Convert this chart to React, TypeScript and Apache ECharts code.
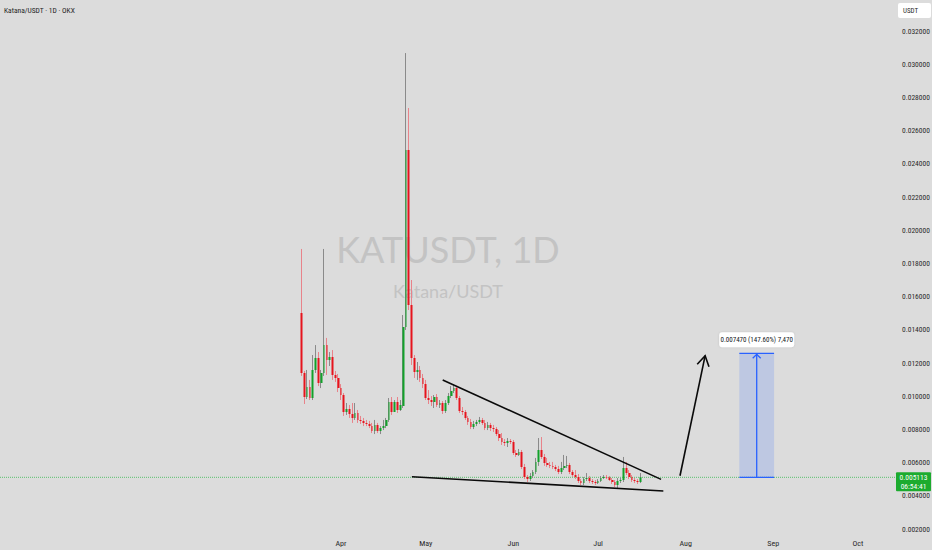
import React, { useEffect, useRef } from "react";
import * as echarts from "echarts";

const DAY = 86400000;
const FIRST_DAY = Date.UTC(2025, 2, 18);
const APR1 = Date.UTC(2025, 3, 1);

const opens = [
  0.01501, 0.0114, 0.00995, 0.01055, 0.00989, 0.01158, 0.0123, 0.0108, 0.0114, 0.01308,
  0.01218, 0.01236, 0.01128, 0.0111, 0.01049, 0.01007, 0.00905, 0.00923, 0.00893, 0.00869,
  0.00899, 0.00857, 0.00851, 0.00839, 0.00833, 0.0082, 0.0079, 0.00827, 0.0079, 0.00808,
  0.0082, 0.00857, 0.00965, 0.00905, 0.00965, 0.00917, 0.00941, 0.01417, 0.02483, 0.01549,
  0.0123, 0.01146, 0.01158, 0.0111, 0.01073, 0.00989, 0.00977, 0.00965, 0.00995, 0.00947,
  0.00959, 0.00911, 0.00959, 0.01001, 0.01031, 0.01049, 0.00989, 0.00911, 0.00905, 0.00869,
  0.00845, 0.00814, 0.00833, 0.00845, 0.00857, 0.00839, 0.00808, 0.00827, 0.00808, 0.00802,
  0.00772, 0.00748, 0.00724, 0.00718, 0.0073, 0.00724, 0.00658, 0.00646, 0.00664, 0.00574,
  0.00513, 0.00501, 0.00519, 0.00543, 0.00604, 0.00676, 0.00634, 0.00598, 0.00586, 0.0058,
  0.00574, 0.00561, 0.00543, 0.00567, 0.0058, 0.00586, 0.00543, 0.00525, 0.00513, 0.00489,
  0.00477, 0.00501, 0.00507, 0.00489, 0.00483, 0.00477, 0.00489, 0.00507, 0.00513, 0.0051,
  0.00495, 0.00483, 0.00465, 0.00489, 0.00495, 0.00567, 0.00537, 0.00513, 0.00495, 0.00489,
  0.00483,
];
const closes = [
  0.0114, 0.00995, 0.01055, 0.00989, 0.01158, 0.0123, 0.0108, 0.0114, 0.01308, 0.01218,
  0.01236, 0.01128, 0.0111, 0.01049, 0.01007, 0.00905, 0.00923, 0.00893, 0.00869, 0.00899,
  0.00857, 0.00851, 0.00839, 0.00833, 0.0082, 0.0079, 0.00827, 0.0079, 0.00808, 0.0082,
  0.00857, 0.00965, 0.00905, 0.00965, 0.00917, 0.00947, 0.01417, 0.02483, 0.01549, 0.0123,
  0.01146, 0.01158, 0.0111, 0.01073, 0.00989, 0.00977, 0.00965, 0.00995, 0.00947, 0.00959,
  0.00911, 0.00959, 0.01001, 0.01031, 0.01049, 0.00989, 0.00911, 0.00905, 0.00869, 0.00845,
  0.00814, 0.00833, 0.00845, 0.00857, 0.00839, 0.00808, 0.00827, 0.00808, 0.00802, 0.00772,
  0.00748, 0.00724, 0.00718, 0.0073, 0.00724, 0.00658, 0.00646, 0.00664, 0.00574, 0.00513,
  0.00501, 0.00519, 0.00543, 0.00604, 0.00676, 0.00634, 0.00598, 0.00586, 0.0058, 0.00574,
  0.00561, 0.00543, 0.00567, 0.0058, 0.00586, 0.00543, 0.00525, 0.00513, 0.00489, 0.00477,
  0.00501, 0.00507, 0.00489, 0.00483, 0.00477, 0.00489, 0.00507, 0.00513, 0.0051, 0.00495,
  0.00483, 0.00465, 0.00489, 0.00495, 0.00567, 0.00537, 0.00513, 0.00495, 0.00489, 0.00483,
  0.005113,
];
const lows = [
  0.01122, 0.00953, 0.00983, 0.00977, 0.00977, 0.0114, 0.01061, 0.01049, 0.01122, 0.01128,
  0.01182, 0.01098, 0.01086, 0.01025, 0.00977, 0.00881, 0.00887, 0.00869, 0.00839, 0.00857,
  0.00839, 0.00833, 0.0082, 0.0082, 0.00808, 0.00778, 0.00772, 0.00778, 0.00772, 0.00796,
  0.00808, 0.00845, 0.00887, 0.00905, 0.00899, 0.00911, 0.00929, 0.01399, 0.01519, 0.01188,
  0.0111, 0.01098, 0.01086, 0.01049, 0.00977, 0.00953, 0.00941, 0.00929, 0.00935, 0.00929,
  0.00893, 0.00899, 0.00947, 0.00989, 0.01019, 0.00977, 0.00899, 0.00887, 0.00857, 0.00827,
  0.00802, 0.00802, 0.0082, 0.00833, 0.00827, 0.00796, 0.00796, 0.0079, 0.00784, 0.0076,
  0.0073, 0.00706, 0.007, 0.00694, 0.00712, 0.00646, 0.00634, 0.0064, 0.00561, 0.00501,
  0.00483, 0.00489, 0.00507, 0.00531, 0.0058, 0.00622, 0.0058, 0.00574, 0.00567, 0.00561,
  0.00549, 0.00531, 0.00531, 0.00555, 0.00567, 0.00531, 0.00513, 0.00501, 0.00477, 0.00465,
  0.00465, 0.00489, 0.00477, 0.00471, 0.00465, 0.00471, 0.00483, 0.00501, 0.00501, 0.00489,
  0.00471, 0.00453, 0.00447, 0.00477, 0.00483, 0.00525, 0.00501, 0.00483, 0.00477, 0.00471,
  0.00477,
];
const highs = [
  0.01887, 0.01152, 0.01158, 0.01098, 0.01248, 0.01308, 0.01266, 0.01158, 0.01887, 0.01351,
  0.01266, 0.01278, 0.01152, 0.01134, 0.01073, 0.01019, 0.00959, 0.00947, 0.00959, 0.00959,
  0.00917, 0.00881, 0.00869, 0.00857, 0.00851, 0.00839, 0.00857, 0.00839, 0.0082, 0.00857,
  0.00869, 0.00989, 0.00995, 0.00977, 0.00995, 0.00977, 0.01489, 0.03067, 0.02736, 0.017,
  0.01248, 0.01206, 0.01182, 0.01134, 0.01098, 0.01037, 0.01001, 0.01007, 0.01013, 0.00977,
  0.00971, 0.00977, 0.01019, 0.01061, 0.01073, 0.01061, 0.01001, 0.00935, 0.00917, 0.00881,
  0.00863, 0.00851, 0.00857, 0.00875, 0.00869, 0.00857, 0.00845, 0.00839, 0.00827, 0.00814,
  0.00796, 0.00778, 0.00742, 0.00748, 0.00742, 0.00736, 0.00676, 0.00682, 0.00676, 0.00592,
  0.00525, 0.00537, 0.00555, 0.00628, 0.00748, 0.00754, 0.00652, 0.00628, 0.00604, 0.00604,
  0.00586, 0.0058, 0.00604, 0.00646, 0.0064, 0.00598, 0.00555, 0.00555, 0.00531, 0.00501,
  0.00513, 0.00537, 0.00519, 0.00501, 0.00495, 0.00501, 0.00519, 0.00525, 0.00525, 0.00519,
  0.00507, 0.00495, 0.00507, 0.00507, 0.00634, 0.00604, 0.00555, 0.00525, 0.00507, 0.00501,
  0.00537,
];

const monthTicks = [
  Date.UTC(2025, 3, 1), Date.UTC(2025, 4, 1), Date.UTC(2025, 5, 1), Date.UTC(2025, 6, 1),
  Date.UTC(2025, 7, 1), Date.UTC(2025, 8, 1), Date.UTC(2025, 9, 1),
];
const monthLabels = ["Apr", "May", "Jun", "Jul", "Aug", "Sep", "Oct"];

const lastPrice = 0.005113;
const countdown = "06:54:41";
const measureTop = 0.012583;
const measureText = "0.007470 (147.60%) 7,470";

// drawing anchors (date offset from Apr 1 in days, price)
const upperTrend = [[36.0, 0.01098], [113.3, 0.00499]];
const lowerTrend = [[25.1, 0.00515], [114.1, 0.00429]];
const arrowPts = [[120.0, 0.00521], [128.9, 0.01244]];
const measureX = [141.0, 153.3];

const FONT = "'Liberation Sans Narrow', 'Roboto Condensed', Roboto, sans-serif";
const BG = "#dcdcdc";
const UP = "#12a12a";
const DOWN = "#e6141d";

export default function App() {
  const ref = useRef<HTMLDivElement>(null);
  useEffect(() => {
    if (!ref.current) return;
    const chart = echarts.init(ref.current, null, { renderer: "svg" });
    const data = opens.map((o, i) => [FIRST_DAY + i * DAY, o, closes[i], lows[i], highs[i]]);
    const gridRight = 36;
    const plotW = 932 - gridRight;
    const pxPerDay = 2.825;
    const xMin = APR1 - (341 / pxPerDay) * DAY;
    const xMax = APR1 + ((plotW - 341) / pxPerDay) * DAY;

    chart.setOption({
      animation: false,
      backgroundColor: BG,
      grid: { left: 0, right: gridRight, top: 31, bottom: 21, containLabel: false, outerBoundsMode: "none" },
      xAxis: {
        type: "value",
        min: xMin,
        max: xMax,
        axisLine: { show: false },
        axisTick: { show: false },
        splitLine: { show: false },
        axisLabel: {
          customValues: monthTicks,
          margin: 10,
          color: "#2a2a2a",
          fontSize: 8,
          fontFamily: FONT,
          formatter: (v: number) => {
            const i = monthTicks.indexOf(v);
            return i >= 0 ? monthLabels[i] : "";
          },
        },
      },
      yAxis: {
        type: "value",
        position: "right",
        min: 0.002,
        max: 0.032,
        interval: 0.002,
        axisLine: { show: false },
        axisTick: { show: false },
        splitLine: { show: false },
        axisLabel: {
          margin: 6,
          color: "#2a2a2a",
          fontSize: 7.5,
          fontFamily: FONT,
          formatter: (v: number) => v.toFixed(6),
        },
      },
      series: [
        {
          type: "line",
          name: "last",
          data: [[xMin, lastPrice], [xMax, lastPrice]],
          symbol: "none",
          silent: true,
          z: 1,
          lineStyle: { color: "#2fb848", type: [1, 1], width: 1, opacity: 0.75 },
        },
        {
          type: "candlestick",
          name: "wicks",
          data,
          encode: { x: 0, y: [1, 2, 3, 4] },
          barWidth: 1,
          itemStyle: {
            color: "#8a8a8a",
            color0: "#e8838a",
            borderColor: "#8a8a8a",
            borderColor0: "#e8838a",
            borderWidth: 1,
          },
          silent: true,
        },
        {
          type: "candlestick",
          name: "KATUSDT",
          data,
          encode: { x: 0, y: [1, 2, 3, 4] },
          barWidth: 2.2,
          itemStyle: {
            color: UP,
            color0: DOWN,
            borderColor: UP,
            borderColor0: DOWN,
            borderWidth: 0,
          },
        },
      ],
    });

    const px = (d: number, p: number) =>
      chart.convertToPixel({ gridIndex: 0 }, [APR1 + d * DAY, p]) as number[];

    const chevron = (from: number[], tip: number[], L: number, W: number) => {
      const dx = tip[0] - from[0];
      const dy = tip[1] - from[1];
      const len = Math.hypot(dx, dy);
      const ux = dx / len;
      const uy = dy / len;
      const bx = tip[0] - ux * L;
      const by = tip[1] - uy * L;
      return [
        [bx + uy * W, by - ux * W],
        [tip[0], tip[1]],
        [bx - uy * W, by + ux * W],
      ];
    };

    const u0 = px(upperTrend[0][0], upperTrend[0][1]);
    const u1 = px(upperTrend[1][0], upperTrend[1][1]);
    const l0 = px(lowerTrend[0][0], lowerTrend[0][1]);
    const l1 = px(lowerTrend[1][0], lowerTrend[1][1]);
    const a0 = px(arrowPts[0][0], arrowPts[0][1]);
    const a1 = px(arrowPts[1][0], arrowPts[1][1]);
    const mTL = px(measureX[0], measureTop);
    const mBR = px(measureX[1], lastPrice);
    const mCx = (mTL[0] + mBR[0]) / 2;
    const priceY = px(0, lastPrice)[1];

    const blue = "#2962ff";
    const Z = 100;
    const WM_FONT = "Lato, 'Open Sans', sans-serif";
    const elements: any[] = [
      {
        type: "text", x: 448, y: 249, z: 0, silent: true,
        style: { text: "KATUSDT, 1D", fill: "#c3c3c3", fontSize: 36, fontFamily: WM_FONT, align: "center", verticalAlign: "middle" },
      },
      {
        type: "text", x: 448, y: 291, z: 0, silent: true,
        style: { text: "Katana/USDT", fill: "#c3c3c3", fontSize: 18, fontFamily: WM_FONT, align: "center", verticalAlign: "middle" },
      },
      {
        type: "text", x: 4, y: 10, z: Z,
        style: { text: "Katana/USDT · 1D · OKX", fill: "#1e1e1e", fontSize: 7.5, fontFamily: FONT, align: "left", verticalAlign: "middle" },
      },
      { type: "rect", z: Z, shape: { x: 898, y: 3, width: 33, height: 15, r: 2 }, style: { fill: "#ffffff" } },
      {
        type: "text", x: 903, y: 10.5, z: Z + 1,
        style: { text: "USDT", fill: "#2a2a2a", fontSize: 7, fontFamily: FONT, align: "left", verticalAlign: "middle" },
      },
      { type: "line", z: Z, shape: { x1: u0[0], y1: u0[1], x2: u1[0], y2: u1[1] }, style: { stroke: "#0a0a0a", lineWidth: 1.6 } },
      { type: "line", z: Z, shape: { x1: l0[0], y1: l0[1], x2: l1[0], y2: l1[1] }, style: { stroke: "#0a0a0a", lineWidth: 1.6 } },
      { type: "line", z: Z, shape: { x1: a0[0], y1: a0[1], x2: a1[0], y2: a1[1] }, style: { stroke: "#0a0a0a", lineWidth: 1.6 } },
      { type: "polyline", z: Z, shape: { points: chevron(a0, a1, 10, 6) }, style: { stroke: "#0a0a0a", lineWidth: 1.6, fill: null } },
      {
        type: "rect", z: Z,
        shape: { x: mTL[0], y: mTL[1], width: mBR[0] - mTL[0], height: mBR[1] - mTL[1] },
        style: { fill: "rgba(41,98,255,0.17)" },
      },
      { type: "line", z: Z, shape: { x1: mTL[0], y1: mTL[1], x2: mBR[0], y2: mTL[1] }, style: { stroke: blue, lineWidth: 1.3 } },
      { type: "line", z: Z, shape: { x1: mTL[0], y1: mBR[1], x2: mBR[0], y2: mBR[1] }, style: { stroke: blue, lineWidth: 1.3 } },
      { type: "line", z: Z, shape: { x1: mCx, y1: mBR[1], x2: mCx, y2: mTL[1] }, style: { stroke: blue, lineWidth: 1.3 } },
      { type: "polyline", z: Z, shape: { points: [[mCx - 4, mTL[1] + 5], [mCx, mTL[1] + 1], [mCx + 4, mTL[1] + 5]] }, style: { stroke: blue, lineWidth: 1.3, fill: null } },
      {
        type: "rect", z: Z,
        shape: { x: mCx - 37.5, y: mTL[1] - 21, width: 75, height: 15, r: 3 },
        style: { fill: "#ffffff", shadowBlur: 2, shadowColor: "rgba(0,0,0,0.12)" },
      },
      {
        type: "text", x: mCx, y: mTL[1] - 13.5, z: Z + 1,
        style: { text: measureText, fill: "#131722", fontSize: 7, fontFamily: FONT, align: "center", verticalAlign: "middle" },
      },
      { type: "rect", z: Z, shape: { x: 896, y: priceY - 5, width: 35, height: 19, r: 1 }, style: { fill: "#1cab2e" } },
      {
        type: "text", x: 913.5, y: priceY + 0.5, z: Z + 1,
        style: { text: lastPrice.toFixed(6), fill: "#ffffff", fontSize: 7.5, fontFamily: FONT, align: "center", verticalAlign: "middle" },
      },
      {
        type: "text", x: 913.5, y: priceY + 9, z: Z + 1,
        style: { text: countdown, fill: "#ffffff", fontSize: 7.5, fontFamily: FONT, align: "center", verticalAlign: "middle" },
      },
    ];
    chart.setOption({ graphic: { elements } });

    return () => chart.dispose();
  }, []);

  return (
    <div
      ref={ref}
      style={{ position: "fixed", left: 0, top: 0, width: 932, height: 550 }}
    />
  );
}
